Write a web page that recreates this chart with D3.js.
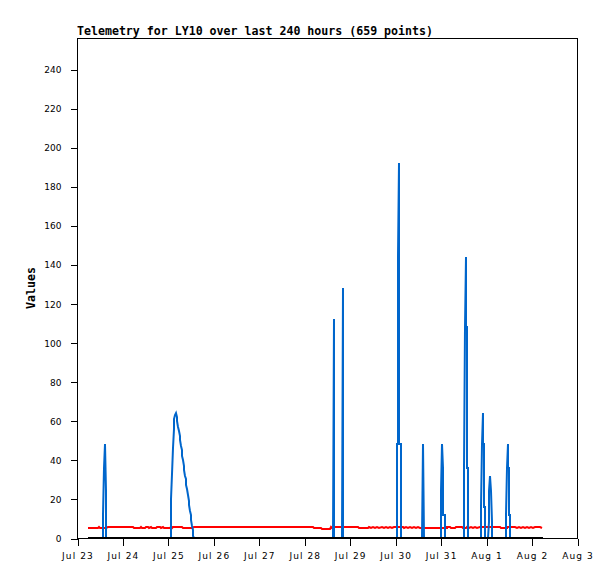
<!DOCTYPE html>
<html lang="en">
<head>
    <meta charset="UTF-8">
    <title>Telemetry for LY10</title>
    <script src="https://d3js.org/d3.v7.min.js"></script>
    <style>
        body {
            margin: 0;
            background: #fff;
        }
        .title, .axis-label {
            font-family: "DejaVu Sans Mono", monospace;
            font-weight: bold;
            font-size: 11.6px;
        }
        .tick text {
            font-family: "DejaVu Sans", sans-serif;
            font-size: 9px;
            fill: #000;
        }
        .x-axis .tick text {
            letter-spacing: 1.1px;
        }
        .line {
            fill: none;
            stroke-width: 2;
            stroke-linejoin: miter;
        }
    </style>
</head>
<body>
    <div id="chart"></div>

    <script>
        // Readings: [hours since Jul 23 00:00, value]
        const redSeries = [
            [6.0, 5.0], [11.35, 5.0], [11.77, 5.7], [12.3, 5.0], [15.31, 5.0], [16.37, 5.7],
            [29.57, 5.7], [30.1, 5.0], [33.26, 5.0], [33.79, 5.7], [34.32, 5.0], [35.64, 5.0],
            [36.17, 5.7], [37.49, 5.7], [38.01, 5.0], [38.81, 5.7], [39.6, 5.0], [41.97, 5.0],
            [42.5, 5.7], [43.82, 5.7], [44.35, 5.0], [45.25, 5.7], [45.93, 5.0], [48.84, 5.0],
            [49.37, 5.7], [50.16, 5.0], [50.84, 5.7], [55.28, 5.7], [55.81, 5.0], [60.98, 5.0],
            [61.77, 5.7], [124.76, 5.7], [125.29, 5.0], [129.0, 5.0], [129.36, 4.6], [133.58, 4.6],
            [134.11, 5.7], [134.9, 5.0], [135.7, 5.7], [148.36, 5.7], [148.89, 5.0], [153.64, 5.0],
            [154.43, 5.7], [155.2, 5.0], [156.28, 5.7], [157.34, 5.0], [158.66, 5.7], [159.71, 5.0],
            [161.03, 5.7], [162.09, 5.0], [163.15, 5.7], [164.2, 5.0], [165.26, 5.7], [166.31, 5.0],
            [167.37, 5.7], [172.12, 5.7], [172.6, 5.0], [173.7, 5.7], [174.76, 5.0], [175.8, 5.7],
            [176.9, 5.0], [177.93, 5.7], [179.0, 5.0], [180.04, 5.7], [181.1, 5.0], [195.2, 5.0],
            [195.6, 5.7], [196.9, 5.7], [197.5, 5.0], [199.6, 5.0], [200.1, 5.7], [203.3, 5.7],
            [203.8, 5.0], [205.4, 5.0], [205.9, 5.7], [207.0, 5.0], [208.0, 5.7], [209.1, 5.0],
            [210.1, 5.7], [211.2, 5.0], [212.8, 5.7], [223.3, 5.7], [223.9, 5.0], [226.9, 5.0],
            [227.3, 5.7], [231.3, 5.7], [232.3, 5.0], [233.4, 5.7], [234.4, 5.0], [235.5, 5.7],
            [236.5, 5.0], [237.6, 5.7], [238.6, 5.0], [239.7, 5.7], [240.8, 5.0], [241.8, 5.7],
            [244.7, 5.7], [245.4, 5.0]
        ];

        const blueSeries = [
            [6.0, 0],
            // Jul 23 afternoon
            [13.69, 0], [13.77, 12], [14.26, 36], [14.78, 48], [15.27, 24], [15.35, 0],
            // Jul 25 hump
            [49.4, 0], [49.8, 20], [50.2, 33], [50.6, 46], [51.0, 56], [51.4, 61], [51.85, 63], [52.3, 64],
            [52.67, 62], [53.03, 60], [53.4, 57], [53.77, 55], [54.13, 52], [54.5, 50], [54.87, 47],
            [55.23, 45], [55.6, 42], [55.97, 40], [56.33, 37], [56.7, 35], [57.07, 32], [57.43, 30],
            [57.8, 27], [58.17, 25], [58.53, 22], [58.9, 19], [59.27, 17], [59.63, 14], [60.0, 12],
            [60.37, 9], [60.73, 6], [61.1, 4], [61.47, 1], [61.8, 0],
            // Jul 28
            [135.1, 0], [135.5, 112], [135.9, 0],
            [139.9, 0], [140.3, 128], [140.7, 0],
            // Jul 30
            [168.9, 0], [169.0, 48], [169.45, 48], [169.5, 144], [170.0, 192], [170.03, 144],
            [170.07, 48], [171.05, 48], [171.1, 0],
            [182.3, 0], [182.7, 48], [183.05, 0],
            // Jul 31
            [192.15, 0], [192.23, 24], [192.72, 48], [193.25, 36], [193.3, 12], [194.27, 12], [194.33, 0],
            // Aug 1
            [204.3, 0], [204.38, 36], [204.87, 108], [205.35, 144], [205.43, 108], [205.92, 108],
            [205.97, 36], [206.42, 36], [206.48, 0],
            [213.27, 0], [213.35, 16], [213.84, 48], [214.33, 64], [214.41, 48], [214.87, 48],
            [214.93, 16], [215.39, 16], [215.45, 0],
            [217.2, 0], [217.28, 8], [217.77, 24], [218.3, 32], [218.82, 24], [218.87, 8],
            [219.32, 8], [219.38, 0],
            [226.47, 0], [226.55, 12], [227.04, 36], [227.53, 48], [227.61, 36], [228.07, 36],
            [228.13, 12], [228.59, 12], [228.65, 0],
            [245.9, 0]
        ];

        const blackSeries = [[6.0, 0], [245.9, 0]];

        const yTicks = [0, 20, 40, 60, 80, 100, 120, 140, 160, 180, 200, 220, 240];
        const titleText = "Telemetry for LY10 over last 240 hours (659 points)";
        const yLabelText = "Values";

        // Layout
        const width = 615, height = 579;
        const plot = {left: 77, right: 577, top: 38, bottom: 538};

        const start = new Date(2009, 6, 23);
        const end = new Date(2009, 7, 3);
        const toDate = h => new Date(start.getTime() + h * 3600 * 1000);

        const svg = d3.select("#chart")
            .append("svg")
            .attr("width", width)
            .attr("height", height);

        const x = d3.scaleTime()
            .domain([start, end])
            .range([plot.left, plot.right]);

        const y = d3.scaleLinear()
            .domain([0, 256])
            .range([plot.bottom, plot.top]);

        // Frame
        svg.append("rect")
            .attr("x", plot.left + 0.5)
            .attr("y", plot.top + 0.5)
            .attr("width", plot.right - plot.left)
            .attr("height", plot.bottom - plot.top)
            .attr("fill", "none")
            .attr("stroke", "#000")
            .attr("stroke-width", 1)
            .attr("shape-rendering", "crispEdges");

        // Axes
        const xAxis = svg.append("g")
            .attr("class", "x-axis")
            .attr("transform", `translate(0.5,${plot.bottom + 0.5})`)
            .call(d3.axisBottom(x)
                .ticks(d3.timeDay.every(1))
                .tickFormat(d3.timeFormat("%b %-d"))
                .tickSize(7)
                .tickPadding(7));

        const yAxis = svg.append("g")
            .attr("class", "y-axis")
            .attr("transform", `translate(${plot.left + 0.5},0.5)`)
            .call(d3.axisLeft(y)
                .tickValues(yTicks)
                .tickSize(7)
                .tickPadding(9));

        [xAxis, yAxis].forEach(g => {
            g.select(".domain").remove();
            g.selectAll(".tick line")
                .attr("stroke", "#000")
                .attr("shape-rendering", "crispEdges");
        });

        // Lines, snapped to whole pixels like the original raster plot
        const line = d3.line()
            .x(d => Math.round(x(toDate(d[0]))))
            .y(d => Math.round(y(d[1])));

        const series = [
            {data: redSeries, color: "#ff0000"},
            {data: blueSeries, color: "#0066cc"},
            {data: blackSeries, color: "#000000"}
        ];

        svg.selectAll(".line")
            .data(series)
            .enter()
            .append("path")
            .attr("class", "line")
            .attr("d", d => line(d.data))
            .attr("stroke", d => d.color);

        // Title and y label
        svg.append("text")
            .attr("class", "title")
            .attr("x", plot.left)
            .attr("y", 35)
            .text(titleText);

        svg.append("text")
            .attr("class", "axis-label")
            .attr("transform", `translate(35,${(plot.top + plot.bottom) / 2}) rotate(-90)`)
            .attr("text-anchor", "middle")
            .text(yLabelText);
    </script>
</body>
</html>
